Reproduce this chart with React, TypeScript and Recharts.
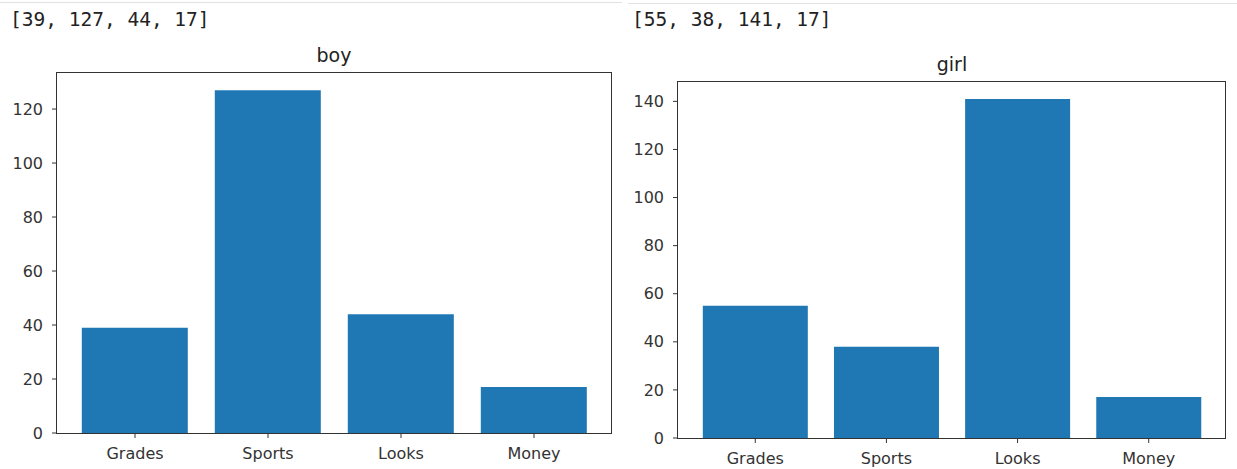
import React from "react";
import { BarChart, Bar, XAxis, YAxis } from "recharts";

const categories = ["Grades", "Sports", "Looks", "Money"];
const boyValues = [39, 127, 44, 17];
const girlValues = [55, 38, 141, 17];
const boyTicks = [0, 20, 40, 60, 80, 100, 120];
const girlTicks = [0, 20, 40, 60, 80, 100, 120, 140];

const boyData = categories.map((name, i) => ({ name, value: boyValues[i] }));
const girlData = categories.map((name, i) => ({ name, value: girlValues[i] }));

const BLUE = "#1f77b4";
const INK = "#333333";
const tickFont = { fontFamily: "DejaVu Sans", fontSize: 16, fill: INK };

type PanelProps = {
  data: { name: string; value: number }[];
  ticks: number[];
  max: number;
  left: number;
  width: number;
  top: number;
  bottomY: number;
  yAxisWidth: number;
  pad: number;
};

// one matplotlib-style subplot: bars + ticks, frame drawn as a box on top
const Panel = ({ data, ticks, max, left, width, top, bottomY, yAxisWidth, pad }: PanelProps) => (
  <div style={{ position: "absolute", left, top: 0 }}>
    <BarChart
      width={width}
      height={469}
      data={data}
      margin={{ top, right: 0, left: 0, bottom: 0 }}
      barCategoryGap="10%"
    >
      <XAxis
        dataKey="name"
        height={469 - bottomY}
        padding={{ left: pad, right: pad }}
        tick={tickFont}
        tickSize={5}
        tickMargin={10}
        axisLine={false}
        tickLine={{ stroke: INK }}
      />
      <YAxis
        width={yAxisWidth}
        domain={[0, max]}
        ticks={ticks}
        allowDataOverflow
        tick={tickFont}
        tickSize={5}
        tickMargin={9}
        axisLine={false}
        tickLine={{ stroke: INK }}
      />
      <Bar dataKey="value" fill={BLUE} isAnimationActive={false} />
    </BarChart>
    <div
      style={{
        position: "absolute",
        left: yAxisWidth - 0.6,
        top: top - 0.6,
        width: width - yAxisWidth - 1.2,
        height: bottomY - top,
        border: `1.2px solid ${INK}`,
        pointerEvents: "none",
      }}
    />
  </div>
);

const App = () => {
  const mono = { fontFamily: "DejaVu Sans Mono", fontSize: 19.5, color: "#222" };
  const title = { fontFamily: "DejaVu Sans", fontSize: 19, color: "#222" };
  return (
    <div
      style={{
        position: "fixed",
        left: 0,
        top: 0,
        width: 1237,
        height: 469,
        background: "#fff",
        overflow: "hidden",
      }}
    >
      <div style={{ position: "absolute", left: 0, top: 2, width: 622, height: 1, background: "#e2e2e2" }} />
      <div style={{ position: "absolute", left: 628, top: 3, width: 609, height: 1, background: "#e2e2e2" }} />
      <div style={{ ...mono, position: "absolute", left: 10, top: 8 }}>[{boyValues.join(", ")}]</div>
      <div style={{ ...mono, position: "absolute", left: 632, top: 8 }}>[{girlValues.join(", ")}]</div>
      <Panel
        data={boyData}
        ticks={boyTicks}
        max={Math.max(...boyValues) * 1.05}
        left={0}
        width={612}
        top={73}
        bottomY={433}
        yAxisWidth={57}
        pad={11.5}
      />
      <Panel
        data={girlData}
        ticks={girlTicks}
        max={Math.max(...girlValues) * 1.05}
        left={621}
        width={605}
        top={82}
        bottomY={438}
        yAxisWidth={57}
        pad={11.7}
      />
      <div style={{ ...title, position: "absolute", left: 57, width: 554, top: 44, textAlign: "center" }}>boy</div>
      <div style={{ ...title, position: "absolute", left: 678, width: 548, top: 53, textAlign: "center" }}>girl</div>
    </div>
  );
};

export default App;
